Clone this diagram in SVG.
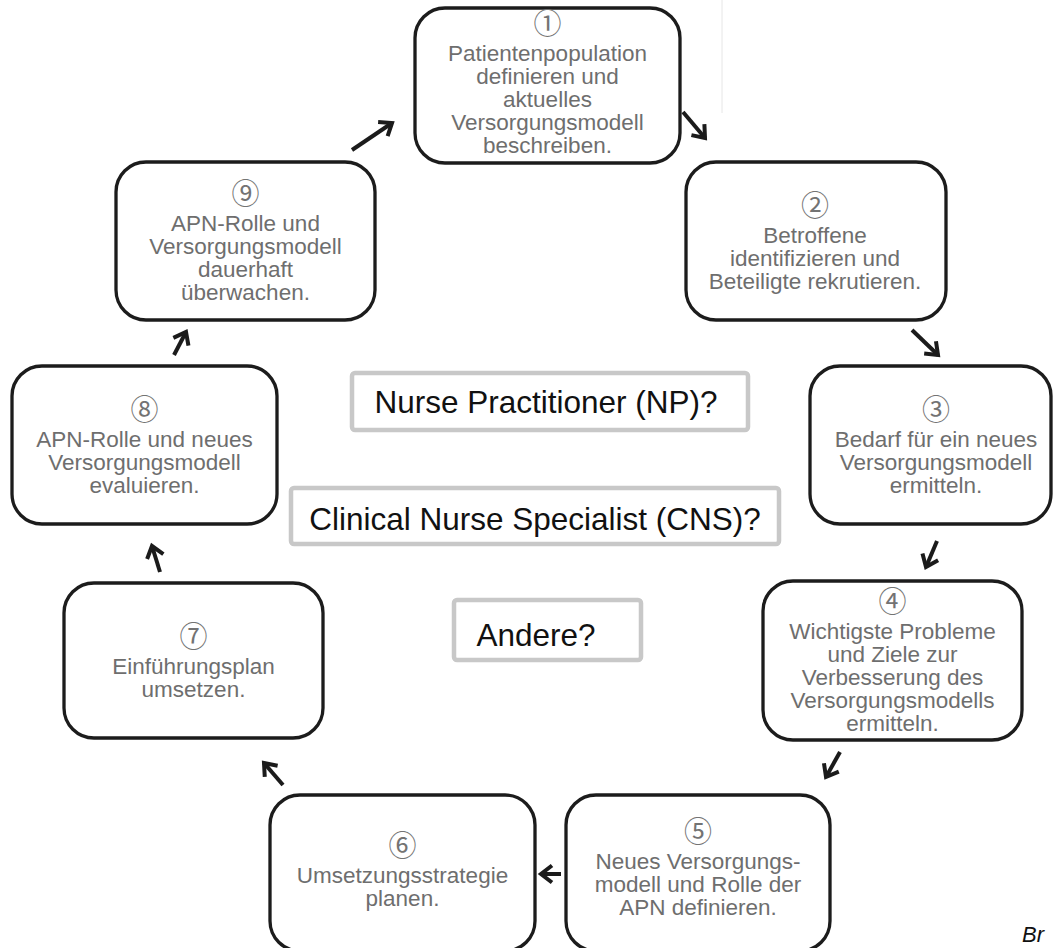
<svg xmlns="http://www.w3.org/2000/svg" width="1054" height="948" viewBox="0 0 1054 948">
  <style>
    .step rect { fill: #ffffff; stroke: #1c1c1c; stroke-width: 3.3; }
    .step text { font-family: "Liberation Sans", Arial, sans-serif; font-size: 22.5px; fill: #6e6e6e; text-anchor: middle; }
    .step text.num { font-family: "Noto Sans CJK JP", "DejaVu Sans", sans-serif; font-size: 28px; fill: #737373; }
    .role rect { fill: #ffffff; stroke: #c8c8c8; stroke-width: 4.5; }
    .role text { font-family: "Liberation Sans", Arial, sans-serif; font-size: 31.5px; fill: #111111; text-anchor: middle; }
    .arrow { fill: none; stroke: #1b1b1b; stroke-width: 4; marker-end: url(#head); }
    .source { font-family: "Liberation Sans", Arial, sans-serif; font-size: 22px; font-style: italic; fill: #111111; }
  </style>
  <defs>
    <marker id="head" viewBox="-16 -16 32 32" refX="0" refY="0" markerWidth="32" markerHeight="32" markerUnits="userSpaceOnUse" orient="auto">
      <path d="M-11,-8.5 L0,0 L-11,8.5" fill="none" stroke="#1b1b1b" stroke-width="4" stroke-linejoin="miter"/>
    </marker>
  </defs>

  <rect width="1054" height="948" fill="#ffffff"/>
  <!-- faint guide line -->
  <line x1="722" y1="0" x2="722" y2="113" stroke="#e6e6e6" stroke-width="1"/>

  <!-- cycle steps -->
  <g id="step1" class="step">
    <rect x="415" y="8" width="265" height="155" rx="30"/>
    <text class="num" x="547.5" y="34">①</text>
    <text x="547.5" y="61">Patientenpopulation<tspan x="547.5" dy="23">definieren und</tspan><tspan x="547.5" dy="23">aktuelles</tspan><tspan x="547.5" dy="23">Versorgungsmodell</tspan><tspan x="547.5" dy="23">beschreiben.</tspan></text>
  </g>
  <g id="step2" class="step">
    <rect x="686" y="162" width="260" height="158" rx="30"/>
    <text class="num" x="815" y="215.5">②</text>
    <text x="815" y="242.5">Betroffene<tspan x="815" dy="23">identifizieren und</tspan><tspan x="815" dy="23">Beteiligte rekrutieren.</tspan></text>
  </g>
  <g id="step3" class="step">
    <rect x="810" y="366" width="241" height="158" rx="30"/>
    <text class="num" x="936" y="419.5">③</text>
    <text x="936" y="446.5">Bedarf für ein neues<tspan x="936" dy="23">Versorgungsmodell</tspan><tspan x="936" dy="23">ermitteln.</tspan></text>
  </g>
  <g id="step4" class="step">
    <rect x="763" y="581" width="259" height="159" rx="30"/>
    <text class="num" x="892.5" y="612">④</text>
    <text x="892.5" y="639">Wichtigste Probleme<tspan x="892.5" dy="23">und Ziele zur</tspan><tspan x="892.5" dy="23">Verbesserung des</tspan><tspan x="892.5" dy="23">Versorgungsmodells</tspan><tspan x="892.5" dy="23">ermitteln.</tspan></text>
  </g>
  <g id="step5" class="step">
    <rect x="566" y="795" width="264" height="156" rx="30"/>
    <text class="num" x="698" y="842">⑤</text>
    <text x="698" y="869">Neues Versorgungs-<tspan x="698" dy="23">modell und Rolle der</tspan><tspan x="698" dy="23">APN definieren.</tspan></text>
  </g>
  <g id="step6" class="step">
    <rect x="270" y="795" width="265" height="156" rx="30"/>
    <text class="num" x="402.5" y="856">⑥</text>
    <text x="402.5" y="883">Umsetzungsstrategie<tspan x="402.5" dy="23">planen.</tspan></text>
  </g>
  <g id="step7" class="step">
    <rect x="64" y="583" width="259" height="155" rx="30"/>
    <text class="num" x="193.5" y="646.5">⑦</text>
    <text x="193.5" y="673.5">Einführungsplan<tspan x="193.5" dy="23">umsetzen.</tspan></text>
  </g>
  <g id="step8" class="step">
    <rect x="12" y="366" width="265" height="158" rx="30"/>
    <text class="num" x="144.5" y="419.5">⑧</text>
    <text x="144.5" y="446.5">APN-Rolle und neues<tspan x="144.5" dy="23">Versorgungsmodell</tspan><tspan x="144.5" dy="23">evaluieren.</tspan></text>
  </g>
  <g id="step9" class="step">
    <rect x="116" y="162" width="259" height="158" rx="30"/>
    <text class="num" x="245.5" y="204">⑨</text>
    <text x="245.5" y="231">APN-Rolle und<tspan x="245.5" dy="23">Versorgungsmodell</tspan><tspan x="245.5" dy="23">dauerhaft</tspan><tspan x="245.5" dy="23">überwachen.</tspan></text>
  </g>

  <!-- role options in the middle -->
  <g id="role-np" class="role">
    <rect x="352" y="373" width="396" height="57" rx="3"/>
    <text x="546" y="413">Nurse Practitioner (NP)?</text>
  </g>
  <g id="role-cns" class="role">
    <rect x="291" y="488" width="488" height="56" rx="3"/>
    <text x="535" y="530">Clinical Nurse Specialist (CNS)?</text>
  </g>
  <g id="role-other" class="role">
    <rect x="454" y="600" width="187" height="60" rx="3"/>
    <text x="536" y="646">Andere?</text>
  </g>

  <!-- connectors between the steps -->
  <g id="connectors">
    <path class="arrow" d="M683,112 L705,138"/>
    <path class="arrow" d="M912,330 L938,355"/>
    <path class="arrow" d="M937,541 L926,567"/>
    <path class="arrow" d="M840,752 L826,777"/>
    <path class="arrow" d="M561,874 L541,874"/>
    <path class="arrow" d="M283,785 L264,763"/>
    <path class="arrow" d="M160,572 L152,546"/>
    <path class="arrow" d="M174,355 L186,332"/>
    <path class="arrow" d="M352,150 L392,123"/>
  </g>

  <text class="source" x="1022" y="942">Br</text>
</svg>
